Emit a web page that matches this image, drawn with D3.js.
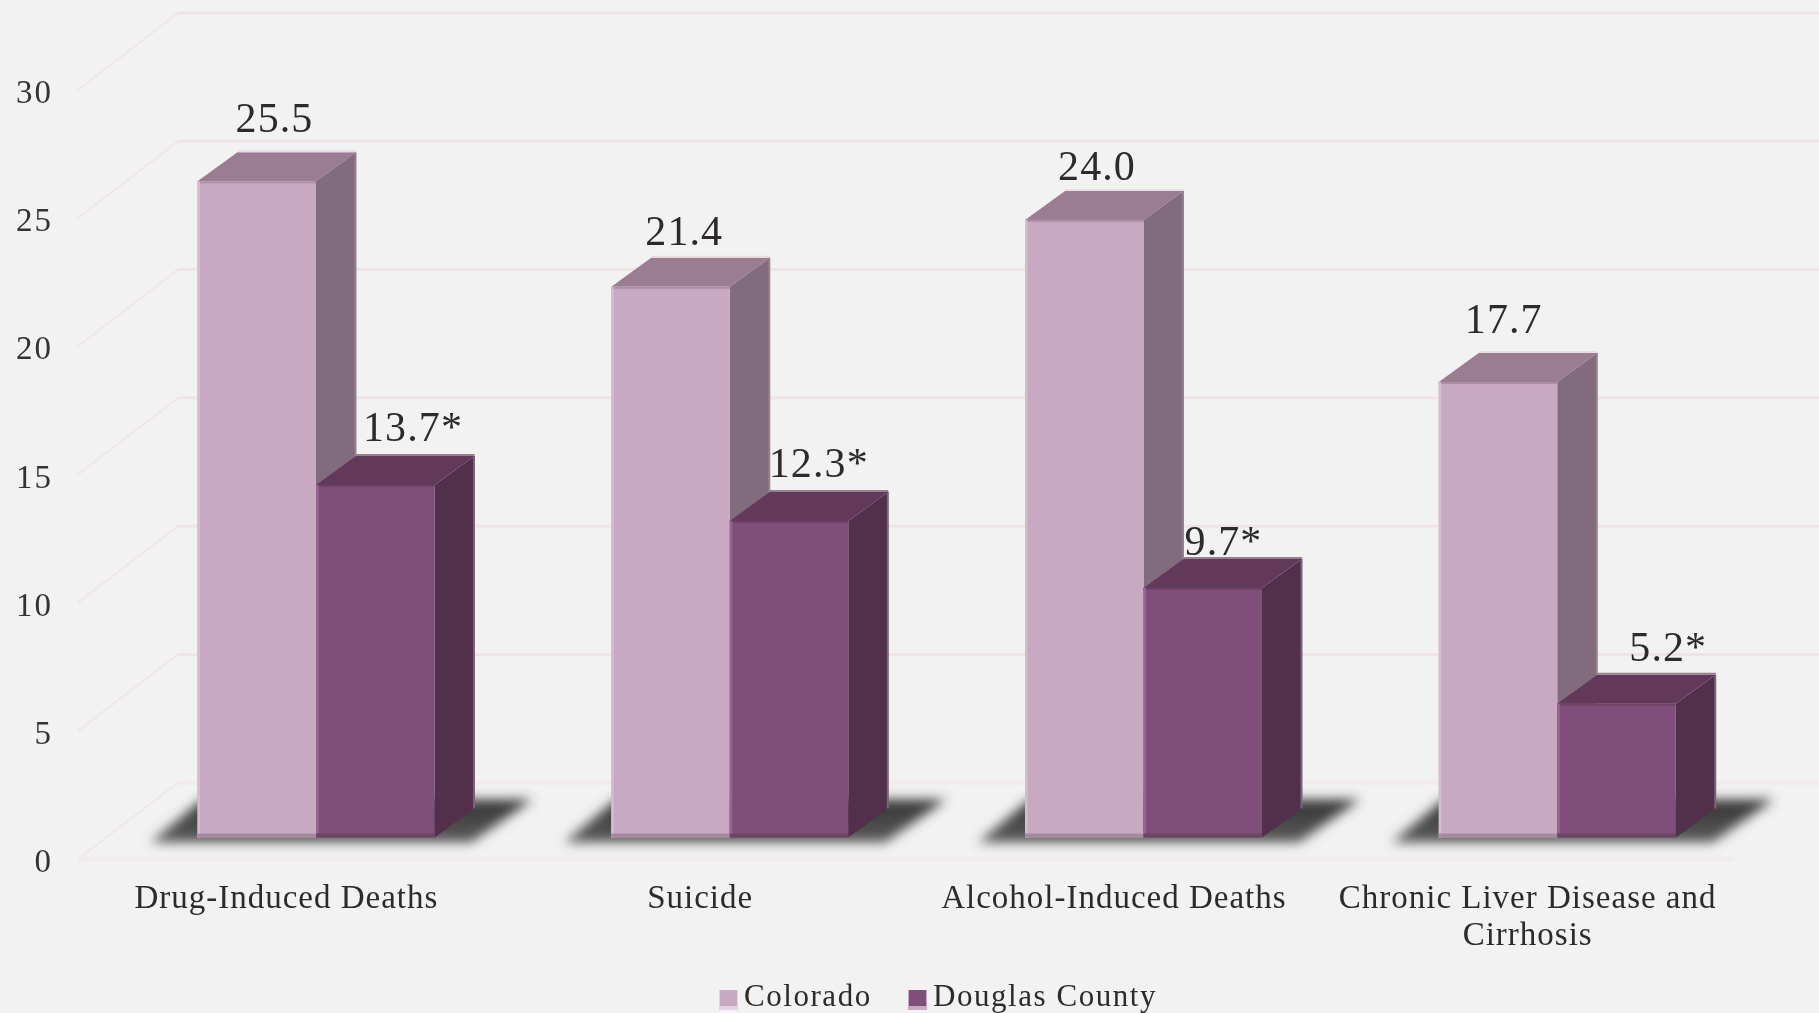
<!DOCTYPE html>
<html>
<head>
<meta charset="utf-8">
<script src="https://cdn.jsdelivr.net/npm/d3@7/dist/d3.min.js"></script>
<style>
html,body{margin:0;padding:0;background:#f2f2f2;overflow:hidden}
svg{display:block;filter:blur(0.6px)}
text{font-family:"Liberation Serif",serif;fill:#2e2a2c}
</style>
</head>
<body>
<svg id="chart" width="1819" height="1013"></svg>
<script>
const categories = ["Drug-Induced Deaths","Suicide","Alcohol-Induced Deaths","Chronic Liver Disease and Cirrhosis"];
const seriesNames = ["Colorado","Douglas County"];
const colorado = [25.5,21.4,24.0,17.7];
const douglas = [13.7,12.3,9.7,5.2];
const starred = [false,true];
const tickValues = [0,5,10,15,20,25,30];
// hand-placed label nudges of the original chart, px from each bar's left edge / top
const labelShiftColorado = [77,73,72,65];
const labelShiftDouglas = [97,89,80,111];
const labelRiseColorado = [49,42,40,49];
const labelRiseDouglas = [44,44,33,43];

const W=1819,H=1013;
const svg=d3.select("#chart");
const defs=svg.append("defs");
defs.append("filter").attr("id","sh").attr("x","-20%").attr("y","-50%").attr("width","140%").attr("height","200%")
  .append("feGaussianBlur").attr("stdDeviation",6);
const grad=defs.append("linearGradient").attr("id","shg").attr("x1",0).attr("y1",0).attr("x2",0).attr("y2",1);
grad.append("stop").attr("offset",0).attr("stop-color","#333");
grad.append("stop").attr("offset",1).attr("stop-color","#5c5c5c");

svg.append("rect").attr("width",W).attr("height",H).attr("fill","#f2f2f2");

const x=d3.scaleBand().domain(categories).range([78,1733]);
const xs=d3.scaleBand().domain(seriesNames).range([119.5,356.5]);
const yFront=d3.scaleLinear().domain([0,30]).range([859,90]);
const yBack=d3.scaleLinear().domain([0,30]).range([782.7,13]);
const yBar=d3.scaleLinear().domain([0,30]).range([837.5,65.5]);
const dx=40,dy=29;
const backDx=100;
const x0=x.range()[0], xEnd=x.range()[1];

// grid
const grid=svg.append("g");
grid.selectAll(".wall").data(tickValues).join("line")
  .attr("x1",x0+backDx).attr("x2",W)
  .attr("y1",d=>yBack(d)).attr("y2",d=>yBack(d))
  .attr("stroke",d=>d===0?"#f1ebed":"#f0e3e6").attr("stroke-width",d=>d===0?4:3);
grid.selectAll(".diag").data(tickValues).join("line")
  .attr("x1",x0).attr("x2",x0+backDx)
  .attr("y1",d=>yFront(d)).attr("y2",d=>yBack(d))
  .attr("stroke","#f1e6e9").attr("stroke-width",2);
grid.append("line").attr("x1",x0).attr("x2",xEnd).attr("y1",yFront(0)).attr("y2",yFront(0))
  .attr("stroke","#f1ebed").attr("stroke-width",5);

// shadows
const base=yBar(0);
svg.append("g").selectAll("polygon").data(categories).join("polygon")
  .attr("points",c=>{
    const l=x(c)+xs.range()[0];
    return [[l-47,base+5],[l+5,base-38],[l+335,base-38],[l+274,base+5]].join(" ");
  })
  .attr("fill","url(#shg)").attr("filter","url(#sh)");

const palette=[
 {front:"#c9a8c2",top:"#9b7d92",side:"#836b7e",base:"#a58a9f",edge:"#d3bdcf",topEdge:"#ab8fa5",rim:"#96808f",rim2:"#e6dee3"},
 {front:"#804e7b",top:"#62395b",side:"#52304c",base:"#6c4566",edge:"#94688e",topEdge:"#6d4366",rim:"#7c6477",rim2:"#94808f"}
];
const rows=categories.map((c,i)=>[
  {c,i,s:0,v:colorado[i]},{c,i,s:1,v:douglas[i]}
]).flat();

const bars=svg.append("g").selectAll("g").data(rows).join("g");
bars.each(function(d){
  const g=d3.select(this), p=palette[d.s];
  const bw=xs.bandwidth();
  const l=x(d.c)+xs(seriesNames[d.s]), r=l+bw, t=yBar(d.v);
  // side
  g.append("polygon").attr("points",[[r,t],[r+dx,t-dy],[r+dx,base-dy],[r,base]].join(" "))
    .attr("fill",p.side);
  g.append("line").attr("x1",r+dx-0.5).attr("x2",r+dx-0.5).attr("y1",t-dy).attr("y2",base-dy)
    .attr("stroke",p.rim).attr("stroke-width",2);
  // top
  g.append("polygon").attr("points",[[l,t],[l+dx,t-dy],[r+dx,t-dy],[r,t]].join(" "))
    .attr("fill",p.top);
  g.append("line").attr("x1",l+dx).attr("x2",r+dx).attr("y1",t-dy-1).attr("y2",t-dy-1)
    .attr("stroke",p.rim2).attr("stroke-width",2);
  // front
  g.append("rect").attr("x",l).attr("y",t).attr("width",bw).attr("height",base-t).attr("fill",p.front);
  g.append("rect").attr("x",l).attr("y",t).attr("width",bw).attr("height",2).attr("fill",p.topEdge);
  g.append("rect").attr("x",l).attr("y",t).attr("width",2.5).attr("height",base-t).attr("fill",p.edge);
  g.append("rect").attr("x",l).attr("y",base-4).attr("width",bw).attr("height",4).attr("fill",p.base);
});

// value labels
svg.append("g").selectAll("text").data(rows).join("text")
  .attr("x",d=>x(d.c)+xs(seriesNames[d.s])+(d.s===0?labelShiftColorado:labelShiftDouglas)[d.i])
  .attr("y",d=>yBar(d.v)-(d.s===0?labelRiseColorado:labelRiseDouglas)[d.i])
  .attr("text-anchor","middle")
  .attr("font-size",42)
  .attr("letter-spacing",1.1)
  .text(d=>d.v.toFixed(1)+(starred[d.s]?"*":""));

// y axis
const yAxis=svg.append("g").attr("transform","translate(53,2)")
  .call(d3.axisLeft(yFront).tickValues(tickValues).tickSize(0).tickPadding(0));
yAxis.select(".domain").remove();
yAxis.selectAll("text").attr("font-size",33).attr("letter-spacing",2).attr("font-family","Liberation Serif").style("fill","#333");

// x axis
const xAxis=svg.append("g").attr("transform","translate(1.5,880)")
  .call(d3.axisBottom(x).tickSize(0).tickPadding(0));
xAxis.select(".domain").remove();
xAxis.selectAll("text").attr("font-size",33).attr("letter-spacing",1).attr("font-family","Liberation Serif").style("fill","#2e2a2c")
  .each(function(){
    const t=d3.select(this), txt=t.text(), words=txt.split(" ");
    t.text(null).attr("y",0).attr("dy",null);
    let line=[], ts=t.append("tspan").attr("x",0).attr("y",27.5), ln=0;
    words.forEach(w=>{
      line.push(w); ts.text(line.join(" "));
      if(ts.node().getComputedTextLength()>400){
        line.pop(); ts.text(line.join(" ")); line=[w]; ln++;
        ts=t.append("tspan").attr("x",0).attr("y",26.5+ln*38).text(w);
      }
    });
  });

// legend
const legendX=d3.scaleOrdinal().domain(seriesNames).range([719,908]);
const lg=svg.append("g").selectAll("g").data(seriesNames).join("g")
  .attr("transform",d=>`translate(${legendX(d)},990)`);
lg.append("rect").attr("width",19).attr("height",20).attr("fill",(d,i)=>i===0?"#e3d2df":"#c9a8c2");
lg.append("rect").attr("width",17).attr("x",1).attr("height",16).attr("fill",(d,i)=>palette[i].front);
lg.append("text").attr("x",25).attr("y",16).attr("font-size",31).attr("letter-spacing",1.55).text(d=>d);
</script>
</body>
</html>
